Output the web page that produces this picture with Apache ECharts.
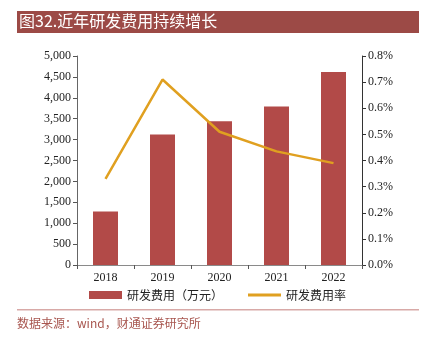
<!DOCTYPE html>
<html>
<head>
<meta charset="utf-8">
<script src="https://cdn.jsdelivr.net/npm/echarts@6/dist/echarts.min.js"></script>
<style>
  html, body { margin: 0; padding: 0; background: #fff; }
  #chart { width: 424px; height: 347px; }
</style>
</head>
<body>
<div id="chart"></div>
<script>
// R&D spending (10k CNY) and R&D expense ratio (%), 2018–2022
const years = ['2018', '2019', '2020', '2021', '2022'];
const rdExpense = [1280, 3120, 3440, 3790, 4620];
const rdRatio = [0.33, 0.71, 0.51, 0.435, 0.39];
const leftTicks = { min: 0, max: 5000, interval: 500 };
const rightTicks = { min: 0, max: 0.8, interval: 0.1 };

const serif = '"Liberation Serif", "Times New Roman", serif';
const cjk = '"Noto Sans CJK SC", sans-serif';

const chart = echarts.init(document.getElementById('chart'), null, { renderer: 'canvas' });

chart.setOption({
  animation: false,
  backgroundColor: '#fff',
  graphic: [
    { type: 'rect', left: 17, top: 11, shape: { width: 402, height: 22 }, style: { fill: '#9C4A46' } },
    { type: 'text', left: 19, top: 13, style: { text: '图32.近年研发费用持续增长', fill: '#fff', font: '16px ' + cjk } },
    { type: 'rect', left: 17, top: 309, shape: { width: 402, height: 1.5 }, style: { fill: '#D8A9A7' } },
    { type: 'text', left: 17, top: 317, style: { text: '数据来源：wind，财通证券研究所', fill: '#A8564F', font: '12px ' + cjk } }
  ],
  grid: { left: 77, right: 62, top: 56, bottom: 82, containLabel: false },
  legend: {
    left: 84, top: 284,
    itemWidth: 33, itemHeight: 8, itemGap: 25,
    textStyle: { fontFamily: cjk, fontSize: 12, color: '#222' },
    data: [
      { name: '研发费用（万元）', icon: 'rect' },
      { name: '研发费用率', icon: 'path://M0,0 L33,0 L33,3 L0,3 Z' }
    ]
  },
  xAxis: {
    type: 'category',
    data: years,
    boundaryGap: true,
    axisLine: { lineStyle: { color: '#8a8a8a', width: 1 } },
    axisTick: { show: true, alignWithLabel: false, length: 4, lineStyle: { color: '#555' } },
    axisLabel: { fontFamily: serif, fontSize: 12, color: '#222', margin: 7 }
  },
  yAxis: [
    {
      type: 'value', min: leftTicks.min, max: leftTicks.max, interval: leftTicks.interval,
      axisLine: { show: true, lineStyle: { color: '#666' } },
      axisTick: { show: true, length: 4, lineStyle: { color: '#555' } },
      splitLine: { show: false },
      axisLabel: {
        fontFamily: serif, fontSize: 12, color: '#222', margin: 6,
        formatter: v => v.toLocaleString('en-US')
      }
    },
    {
      type: 'value', min: rightTicks.min, max: rightTicks.max, interval: rightTicks.interval,
      position: 'right',
      axisLine: { show: true, lineStyle: { color: '#333' } },
      axisTick: { show: true, length: 4, lineStyle: { color: '#333' } },
      splitLine: { show: false },
      axisLabel: {
        fontFamily: serif, fontSize: 12, color: '#222', margin: 6,
        formatter: v => v.toFixed(1) + '%'
      }
    }
  ],
  series: [
    {
      name: '研发费用（万元）',
      type: 'bar',
      data: rdExpense,
      barWidth: 25,
      itemStyle: { color: '#B24A48' }
    },
    {
      name: '研发费用率',
      type: 'line',
      yAxisIndex: 1,
      data: rdRatio,
      symbol: 'none',
      lineStyle: { color: '#E0A020', width: 2.5 },
      itemStyle: { color: '#E0A020' }
    }
  ]
});
</script>
</body>
</html>
